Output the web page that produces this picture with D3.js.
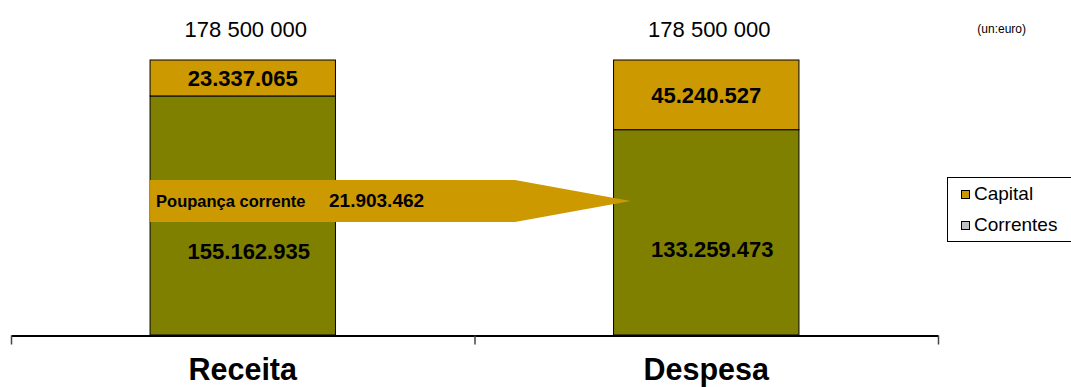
<!DOCTYPE html>
<html>
<head>
<meta charset="utf-8">
<script src="https://cdn.jsdelivr.net/npm/d3@7"></script>
<style>
  html, body { margin: 0; padding: 0; background: #fff; }
  svg { display: block; font-family: "Liberation Sans", Arial, sans-serif; }
</style>
</head>
<body>
<svg id="chart" width="1071" height="387"></svg>
<script>
// Orçamento: receita vs despesa (euros)
const categories = ["Receita", "Despesa"];
const capital    = [23337065, 45240527];
const correntes  = [155162935, 133259473];
const totals     = [178500000, 178500000];
const poupanca   = { label: "Poupança corrente", value: 21903462 };
const seriesNames = ["Capital", "Correntes"];
const unitLabel = "(un:euro)";

const colors = { Capital: "#CC9900", Correntes: "#808000" };
const legendColors = { Capital: "#CC9900", Correntes: "#C0C0C0" };

const fmtDots = v => d3.format(",")(v).replace(/,/g, ".");
const fmtSpaces = v => d3.format(",")(v).replace(/,/g, " ");

const svg = d3.select("#chart");

const x = d3.scaleBand()
  .domain(categories)
  .range([11, 938])
  .paddingInner(0.6)
  .paddingOuter(0.3);

const y = d3.scaleLinear()
  .domain([0, 178500000])
  .range([335, 60]);

const rows = categories.map((c, i) => ({ cat: c, Correntes: correntes[i], Capital: capital[i] }));
const stack = d3.stack().keys(["Correntes", "Capital"])(rows);

// stacked bars
const g = svg.append("g");
stack.forEach(layer => {
  g.selectAll(null)
    .data(layer)
    .join("rect")
    .attr("x", d => x(d.data.cat))
    .attr("y", d => y(d[1]))
    .attr("width", x.bandwidth())
    .attr("height", d => y(d[0]) - y(d[1]))
    .attr("fill", colors[layer.key])
    .attr("stroke", "#000")
    .attr("stroke-width", 1);
});

// category axis with ticks on band boundaries
const edge = d3.scaleLinear().domain([0, categories.length]).range(x.range());
svg.append("g")
  .attr("transform", "translate(0,335.5)")
  .call(d3.axisBottom(edge).tickValues(d3.range(categories.length + 1)).tickSize(9).tickSizeOuter(0).tickFormat(""))
  .call(a => a.select(".domain").attr("stroke", "#000").attr("stroke-width", 2))
  .call(a => a.selectAll(".tick line").attr("stroke", "#444").attr("stroke-width", 1.5));

svg.selectAll(null)
  .data(categories)
  .join("text")
  .attr("x", d => x(d) + x.bandwidth() / 2)
  .attr("y", 380)
  .attr("text-anchor", "middle")
  .attr("font-weight", "bold")
  .attr("font-size", 30.5)
  .text(d => d);

// totals above bars
svg.selectAll(null)
  .data(categories)
  .join("text")
  .attr("x", d => x(d) + x.bandwidth() / 2 + 3)
  .attr("y", 37)
  .attr("text-anchor", "middle")
  .attr("font-size", 22)
  .text((d, i) => fmtSpaces(totals[i]));

// capital labels (centred in segment)
svg.selectAll(null)
  .data(categories)
  .join("text")
  .attr("x", d => x(d) + x.bandwidth() / 2)
  .attr("y", (d, i) => (y(totals[i]) + y(correntes[i])) / 2 + 8.5)
  .attr("text-anchor", "middle")
  .attr("font-weight", "bold")
  .attr("font-size", 22)
  .text((d, i) => fmtDots(capital[i]));

// correntes labels, nudged below the savings arrow
const correntesNudge = [44, 25];
svg.selectAll(null)
  .data(categories)
  .join("text")
  .attr("x", d => x(d) + x.bandwidth() / 2 + 6)
  .attr("y", (d, i) => (y(0) + y(correntes[i])) / 2 + correntesNudge[i])
  .attr("text-anchor", "middle")
  .attr("font-weight", "bold")
  .attr("font-size", 22)
  .text((d, i) => fmtDots(correntes[i]));

// savings arrow from Receita into Despesa
const ax0 = x("Receita"), ax1 = x("Despesa") + 17;
const arrowTop = 180, arrowBot = 222, neck = 515;
svg.append("polygon")
  .attr("points", [[ax0, arrowTop], [neck, arrowTop], [ax1, (arrowTop + arrowBot) / 2], [neck, arrowBot], [ax0, arrowBot]].map(p => p.join(",")).join(" "))
  .attr("fill", colors.Capital);
svg.append("text")
  .attr("x", ax0 + 6)
  .attr("y", 207)
  .attr("font-weight", "bold")
  .attr("font-size", 16.5)
  .text(poupanca.label);
svg.append("text")
  .attr("x", 329)
  .attr("y", 207)
  .attr("font-weight", "bold")
  .attr("font-size", 19)
  .text(fmtDots(poupanca.value));

// unit note
svg.append("text")
  .attr("x", 1026)
  .attr("y", 33)
  .attr("text-anchor", "end")
  .attr("font-size", 12)
  .text(unitLabel);

// legend
const lg = svg.append("g");
lg.append("rect")
  .attr("x", 947.5).attr("y", 177.5)
  .attr("width", 140).attr("height", 64)
  .attr("fill", "#fff").attr("stroke", "#000");
seriesNames.forEach((s, i) => {
  const yy = 200 + i * 31;
  lg.append("rect")
    .attr("x", 961.5).attr("y", yy - 9.5)
    .attr("width", 8).attr("height", 8)
    .attr("fill", legendColors[s]).attr("stroke", "#000");
  lg.append("text")
    .attr("x", 974).attr("y", yy)
    .attr("font-size", 19)
    .text(s);
});
</script>
</body>
</html>
